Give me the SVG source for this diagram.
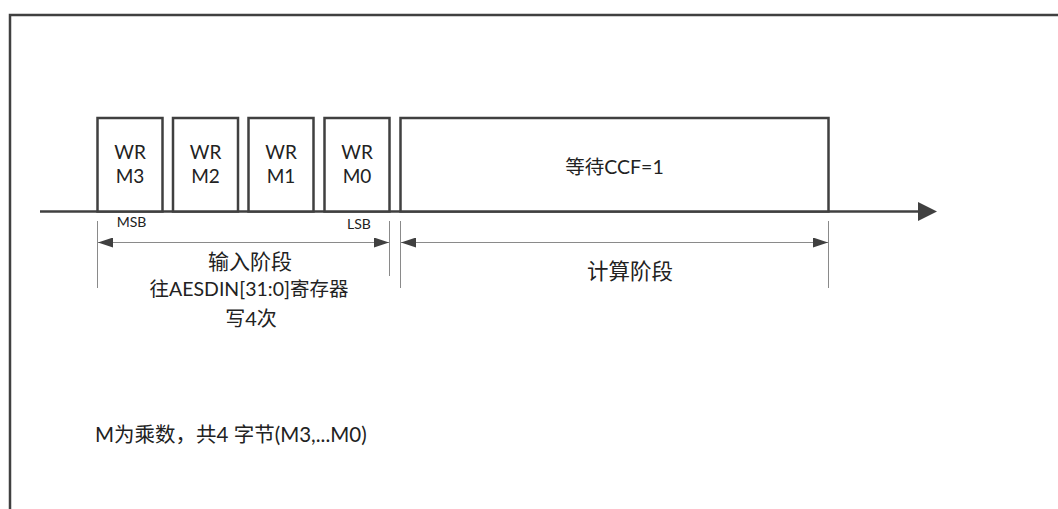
<svg xmlns="http://www.w3.org/2000/svg" width="1058" height="509" viewBox="0 0 1058 509">
<defs>
<style>
.t{font-family:Lato,"Noto Sans CJK SC",sans-serif;fill:#222;text-anchor:middle}
.box{fill:#fff;stroke:#404040;stroke-width:2.5}
.thick{stroke:#404040;stroke-width:2.5;fill:none}
.dim{stroke:#8a8a8a;stroke-width:1;fill:none}
</style>
<marker id="da" markerWidth="15" markerHeight="10" viewBox="0 0 15 10" refX="15" refY="5" orient="auto-start-reverse" markerUnits="userSpaceOnUse">
<path d="M0,0 L15,5 L0,10 z" fill="#404040"/>
</marker>
</defs>
<rect width="1058" height="509" fill="#fff"/>
<path d="M10,509 L10,15 L1058,15" class="thick"/>
<g id="connectors">
<line x1="40" y1="211.5" x2="920" y2="211.5" class="thick"/>
<path d="M918,202 L937,211.5 L918,221 z" fill="#404040"/>
<line x1="97.5" y1="221" x2="97.5" y2="288" class="dim"/>
<line x1="389.5" y1="221" x2="389.5" y2="276" class="dim"/>
<line x1="400.5" y1="221" x2="400.5" y2="288" class="dim"/>
<line x1="828.5" y1="221" x2="828.5" y2="288" class="dim"/>
<line x1="98" y1="242.5" x2="389" y2="242.5" class="dim" marker-start="url(#da)" marker-end="url(#da)"/>
<line x1="401" y1="242.5" x2="828" y2="242.5" class="dim" marker-start="url(#da)" marker-end="url(#da)"/>
</g>
<g id="wr-m3">
<rect x="97.5" y="118" width="65" height="93.5" class="box"/>
<text x="130" y="159" class="t" font-size="19">WR</text>
<text x="130" y="183" class="t" font-size="19">M3</text>
</g>
<g id="wr-m2">
<rect x="173" y="118" width="65" height="93.5" class="box"/>
<text x="205.5" y="159" class="t" font-size="19">WR</text>
<text x="205.5" y="183" class="t" font-size="19">M2</text>
</g>
<g id="wr-m1">
<rect x="248.5" y="118" width="65" height="93.5" class="box"/>
<text x="281" y="159" class="t" font-size="19">WR</text>
<text x="281" y="183" class="t" font-size="19">M1</text>
</g>
<g id="wr-m0">
<rect x="324.5" y="118" width="65" height="93.5" class="box"/>
<text x="357" y="159" class="t" font-size="19">WR</text>
<text x="357" y="183" class="t" font-size="19">M0</text>
</g>
<g id="wait-ccf">
<rect x="400.5" y="118" width="428" height="93.5" class="box"/>
<text x="614.5" y="174" class="t" font-size="19.5">等待CCF=1</text>
</g>
<text x="131.5" y="227" class="t" font-size="14">MSB</text>
<text x="359" y="229" class="t" font-size="14">LSB</text>
<text x="250" y="269" class="t" font-size="21">输入阶段</text>
<text x="249" y="296" class="t" font-size="19.5">往AESDIN[31:0]寄存器</text>
<text x="251" y="326" class="t" font-size="20">写4次</text>
<text x="630" y="279" class="t" font-size="21.5">计算阶段</text>
<text x="95" y="442" class="t" font-size="20.5" style="text-anchor:start">M为乘数，共4 字节(M3,...M0)</text>
</svg>
